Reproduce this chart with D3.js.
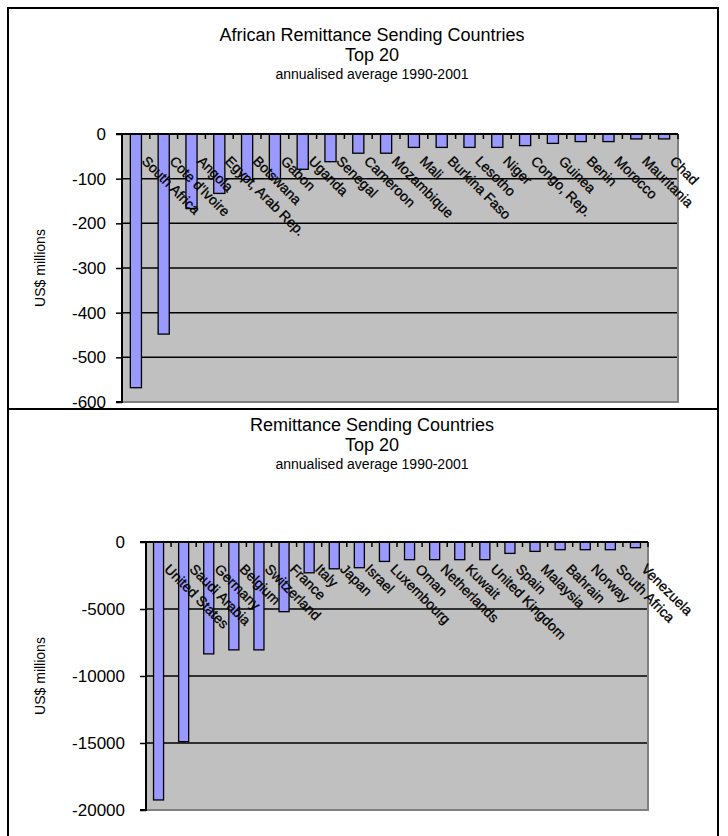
<!DOCTYPE html>
<html>
<head>
<meta charset="utf-8">
<script src="https://cdn.jsdelivr.net/npm/d3@7"></script>
<style>
  html, body { margin: 0; padding: 0; background: #fff; }
  svg { display: block; }
  text { font-family: "Liberation Sans", Arial, sans-serif; fill: #000; }
</style>
</head>
<body>
<svg id="chart" width="728" height="836"></svg>
<script>
// African senders, US$ millions (annualised average 1990-2001)
const africaCountries = ["South Africa", "Cote d'Ivoire", "Angola", "Egypt, Arab Rep.", "Botswana", "Gabon", "Uganda", "Senegal", "Cameroon", "Mozambique", "Mali", "Burkina Faso", "Lesotho", "Niger", "Congo, Rep.", "Guinea", "Benin", "Morocco", "Mauritania", "Chad"];
const africaValues = [-568, -448, -167, -133, -102, -100, -79, -62, -43, -43, -30, -30, -30, -30, -26, -21, -17, -17, -11, -11];
const africaTicks = [0, -100, -200, -300, -400, -500, -600];

// World senders, US$ millions (annualised average 1990-2001)
const worldCountries = ["United States", "Saudi Arabia", "Germany", "Belgium", "Switzerland", "France", "Italy", "Japan", "Israel", "Luxembourg", "Oman", "Netherlands", "Kuwait", "United Kingdom", "Spain", "Malaysia", "Bahrain", "Norway", "South Africa", "Venezuela"];
const worldValues = [-19250, -14900, -8350, -8050, -8050, -5200, -2300, -2000, -1920, -1450, -1320, -1320, -1320, -1320, -850, -700, -575, -575, -575, -425];
const worldTicks = [0, -5000, -10000, -15000, -20000];

const titleLines = ["Top 20"];
const subtitle = "annualised average 1990-2001";
const yTitle = "US$ millions";

const svg = d3.select("#chart");

function drawPanel(cfg) {
  const g = svg.append("g");

  // outer frame
  g.append("rect")
    .attr("x", cfg.frame[0]).attr("y", cfg.frame[1])
    .attr("width", cfg.frame[2]).attr("height", cfg.frame[3])
    .attr("fill", "none").attr("stroke", "#000").attr("stroke-width", 2);

  // titles
  const cx = cfg.titleX;
  g.append("text").attr("x", cx).attr("y", cfg.titleY).attr("text-anchor", "middle")
    .attr("font-size", 18).text(cfg.title);
  g.append("text").attr("x", cx).attr("y", cfg.titleY + 20).attr("text-anchor", "middle")
    .attr("font-size", 18).text(titleLines[0]);
  g.append("text").attr("x", cx).attr("y", cfg.titleY + 38).attr("text-anchor", "middle")
    .attr("font-size", 14).text(subtitle);

  const x = d3.scaleBand()
    .domain(cfg.categories)
    .range([cfg.left, cfg.right])
    .paddingInner(0.6)
    .paddingOuter(0.3);

  const y = d3.scaleLinear()
    .domain([cfg.ticks[cfg.ticks.length - 1], 0])
    .range([cfg.bottom, cfg.top]);

  // plot background
  g.append("rect")
    .attr("x", cfg.left).attr("y", cfg.top)
    .attr("width", cfg.right - cfg.left).attr("height", cfg.bottom - cfg.top)
    .attr("fill", "#C0C0C0");

  // horizontal gridlines
  g.append("g").selectAll("line")
    .data(cfg.ticks.filter(t => t !== 0 && t !== cfg.ticks[cfg.ticks.length - 1]))
    .join("line")
    .attr("x1", cfg.left).attr("x2", cfg.right)
    .attr("y1", d => y(d)).attr("y2", d => y(d))
    .attr("stroke", "#000").attr("stroke-width", 1.5);

  // plot border (right and bottom)
  g.append("path")
    .attr("d", `M${cfg.right},${cfg.top}V${cfg.bottom}H${cfg.left}`)
    .attr("fill", "none").attr("stroke", "#808080").attr("stroke-width", 2);

  // bars
  g.append("g").selectAll("rect")
    .data(cfg.values)
    .join("rect")
    .attr("x", (d, i) => x(cfg.categories[i]))
    .attr("width", x.bandwidth())
    .attr("y", y(0))
    .attr("height", d => y(d) - y(0))
    .attr("fill", "#9999FF")
    .attr("stroke", "#000")
    .attr("stroke-width", 1.3);

  // category axis along the zero line, ticks between categories
  const step = x.step();
  const bounds = d3.range(cfg.categories.length + 1).map(i => cfg.left + i * step);
  g.append("g").selectAll("line")
    .data(bounds)
    .join("line")
    .attr("x1", d => d).attr("x2", d => d)
    .attr("y1", y(0)).attr("y2", y(0) + 5)
    .attr("stroke", "#000").attr("stroke-width", 1.5);
  g.append("line")
    .attr("x1", cfg.left).attr("x2", cfg.right)
    .attr("y1", y(0)).attr("y2", y(0))
    .attr("stroke", "#000").attr("stroke-width", 2);

  // category labels, slanted
  g.append("g").selectAll("text")
    .data(cfg.categories)
    .join("text")
    .attr("transform", d => `translate(${x(d) + x.bandwidth() / 2 + 5},${y(0) + 28}) rotate(45)`)
    .attr("font-size", 14)
    .attr("stroke", "#000")
    .attr("stroke-width", 0.3)
    .text(d => d);

  // value axis
  const yAxis = d3.axisLeft(y)
    .tickValues(cfg.ticks)
    .tickSize(6)
    .tickPadding(cfg.tickPad)
    .tickFormat(d => String(d));
  const ag = g.append("g")
    .attr("transform", `translate(${cfg.left},0)`)
    .call(yAxis);
  ag.select(".domain").attr("stroke", "#000").attr("stroke-width", 2)
    .attr("d", `M-6,${cfg.top}H0V${cfg.bottom}H-6`);
  ag.selectAll(".tick line").attr("stroke", "#000").attr("stroke-width", 1.5);
  ag.selectAll(".tick text")
    .attr("font-family", "Liberation Sans, Arial, sans-serif")
    .attr("font-size", 17)
    .attr("fill", "#000");

  // value axis title
  g.append("text")
    .attr("transform", `translate(${cfg.yTitleX},${(cfg.top + cfg.bottom) / 2}) rotate(-90)`)
    .attr("text-anchor", "middle")
    .attr("font-size", 14)
    .text(yTitle);
}

drawPanel({
  frame: [8, 8, 710, 401],
  title: "African Remittance Sending Countries",
  titleX: 372, titleY: 41,
  categories: africaCountries,
  values: africaValues,
  ticks: africaTicks,
  left: 122, right: 678, top: 134, bottom: 402,
  tickPad: 10,
  yTitleX: 45
});

drawPanel({
  frame: [8, 409, 710, 440],
  title: "Remittance Sending Countries",
  titleX: 372, titleY: 431,
  categories: worldCountries,
  values: worldValues,
  ticks: worldTicks,
  left: 146, right: 648, top: 542, bottom: 810,
  tickPad: 15,
  yTitleX: 45
});
</script>
</body>
</html>
